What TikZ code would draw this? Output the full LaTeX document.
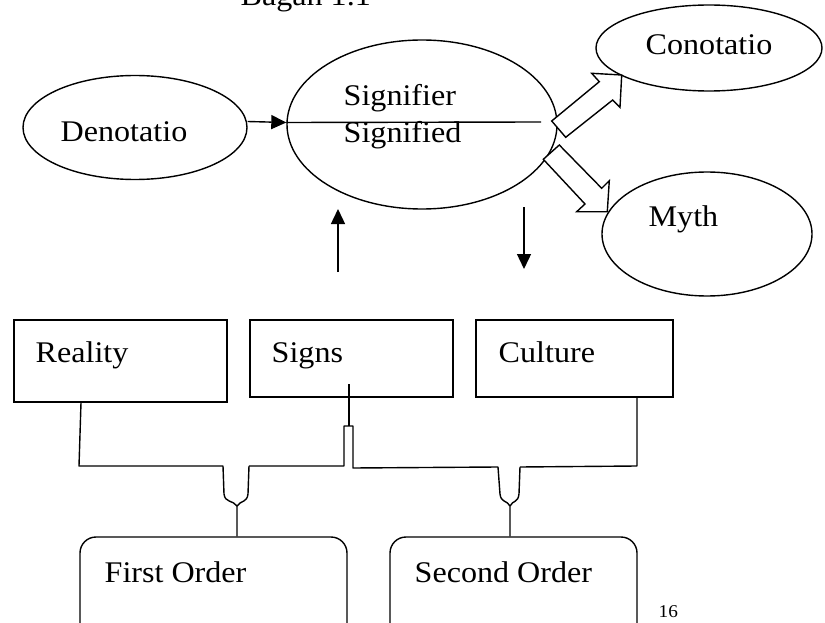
\documentclass[tikz,border=0pt]{standalone}
\usepackage{fontspec}
\setmainfont{Liberation Serif}[FakeStretch=1.07]
\usetikzlibrary{shapes.geometric,arrows.meta}
\begin{document}
\begin{tikzpicture}[x=1pt,y=-1pt, line width=1.4pt,
  every node/.style={font=\fontsize{30}{36}\selectfont},
  ell/.style={draw, ellipse, inner sep=0pt},
  lbl/.style={anchor=base west, inner sep=0pt},
  sqbox/.style={draw, rectangle, inner sep=0pt},
  rbox/.style={draw, rectangle, rounded corners=16pt, inner sep=0pt},
  blockarrow/.style={draw, line join=miter, fill=white},
  wire/.style={draw, line join=round},
  tip/.style={-{Triangle[length=15pt,width=14pt]}}]
\useasboundingbox (0,0) rectangle (825,623);

% title (cut by the page edge, as in the reference)
\node[lbl] (title) at (240,6) {Bagan 1.1};

% ellipses
\node[ell, minimum width=224pt, minimum height=104pt] (den) at (135,127.5) {};
\node[ell, minimum width=270pt, minimum height=169pt] (sig) at (422,124.5) {};
\node[ell, minimum width=226pt, minimum height=86pt] (con) at (709,48) {};
\node[ell, minimum width=210pt, minimum height=124pt] (myth) at (707,234) {};

\node[lbl] (tden) at (60,142) {Denotatio};
\node[lbl] (tsig1) at (343,106) {Signifier};
\node[lbl] (tsig2) at (343,143) {Signified};
\node[lbl] (tcon) at (645,55) {Conotatio};
\node[lbl] (tmyth) at (648,226) {Myth};

% horizontal arrow and line
\coordinate (lineend) at (541,122);
\draw[tip] ([yshift=6pt]den.east) -- ([yshift=2pt]sig.west);
\draw ([yshift=2pt]sig.west) -- (lineend);

% block arrows
\draw[blockarrow] (551.7,121) -- (599.3,81.7) -- (591.7,73.3) -- (621.7,75) -- (620,107.3) -- (612.7,100) -- (565.7,137.3) -- cycle;
\draw[blockarrow] (559.3,145) -- (601.7,188.3) -- (609.3,180.7) -- (607.3,211.7) -- (576.7,211.7) -- (585,204) -- (543.3,159.3) -- cycle;

% vertical arrows
\coordinate (upfoot) at (338,272);
\coordinate (uptip) at (338,209);
\coordinate (downtop) at (524,207);
\coordinate (downtip) at (524,269);
\draw[tip] (upfoot) -- (uptip);
\draw[tip] (downtop) -- (downtip);

% boxes
\node[sqbox, minimum width=213pt, minimum height=82pt] (reality) at (120.5,361) {};
\node[sqbox, minimum width=203pt, minimum height=77pt] (signs) at (351.5,358.5) {};
\node[sqbox, minimum width=197pt, minimum height=77pt] (culture) at (574.5,358.5) {};
\node[lbl] (treal) at (35,362) {Reality};
\node[lbl] (tsigns) at (271,362) {Signs};
\node[lbl] (tcult) at (498,362) {Culture};

\node[rbox, minimum width=267pt, minimum height=103pt] (first) at (213.5,588.5) {};
\node[rbox, minimum width=247pt, minimum height=103pt] (second) at (513.5,588.5) {};
\node[lbl] (tfirst) at (104,582) {First Order};
\node[lbl] (tsecond) at (414,582) {Second Order};

% brace connectors
\draw[wire] ([xshift=-39.5pt]reality.south) -- (79,466) -- (223,466) -- (224,494)
  .. controls (225,503) and (233,500) .. (237,506) -- ([xshift=23.5pt]first.north);
\draw[wire] (249,466) -- (248,494) .. controls (247,503) and (241,500) .. (237,506);
\draw[wire] (249,466) -- (344,466) -- (344,426) -- (353,426) -- (353,468) -- (498,467) -- (500,494)
  .. controls (501,503) and (507,500) .. (510,506) -- ([xshift=-3.5pt]second.north);
\draw[wire] (520,467) -- (519,494) .. controls (518,503) and (513,500) .. (510,506);
\draw[wire] (520,467) -- (637,466) -- ([xshift=62.5pt]culture.south);
\draw[wire] (349,384) -- (349,426);

% page number
\node[lbl, font=\fontsize{18}{21}\selectfont] (page) at (658,617) {16};
\end{tikzpicture}
\end{document}
